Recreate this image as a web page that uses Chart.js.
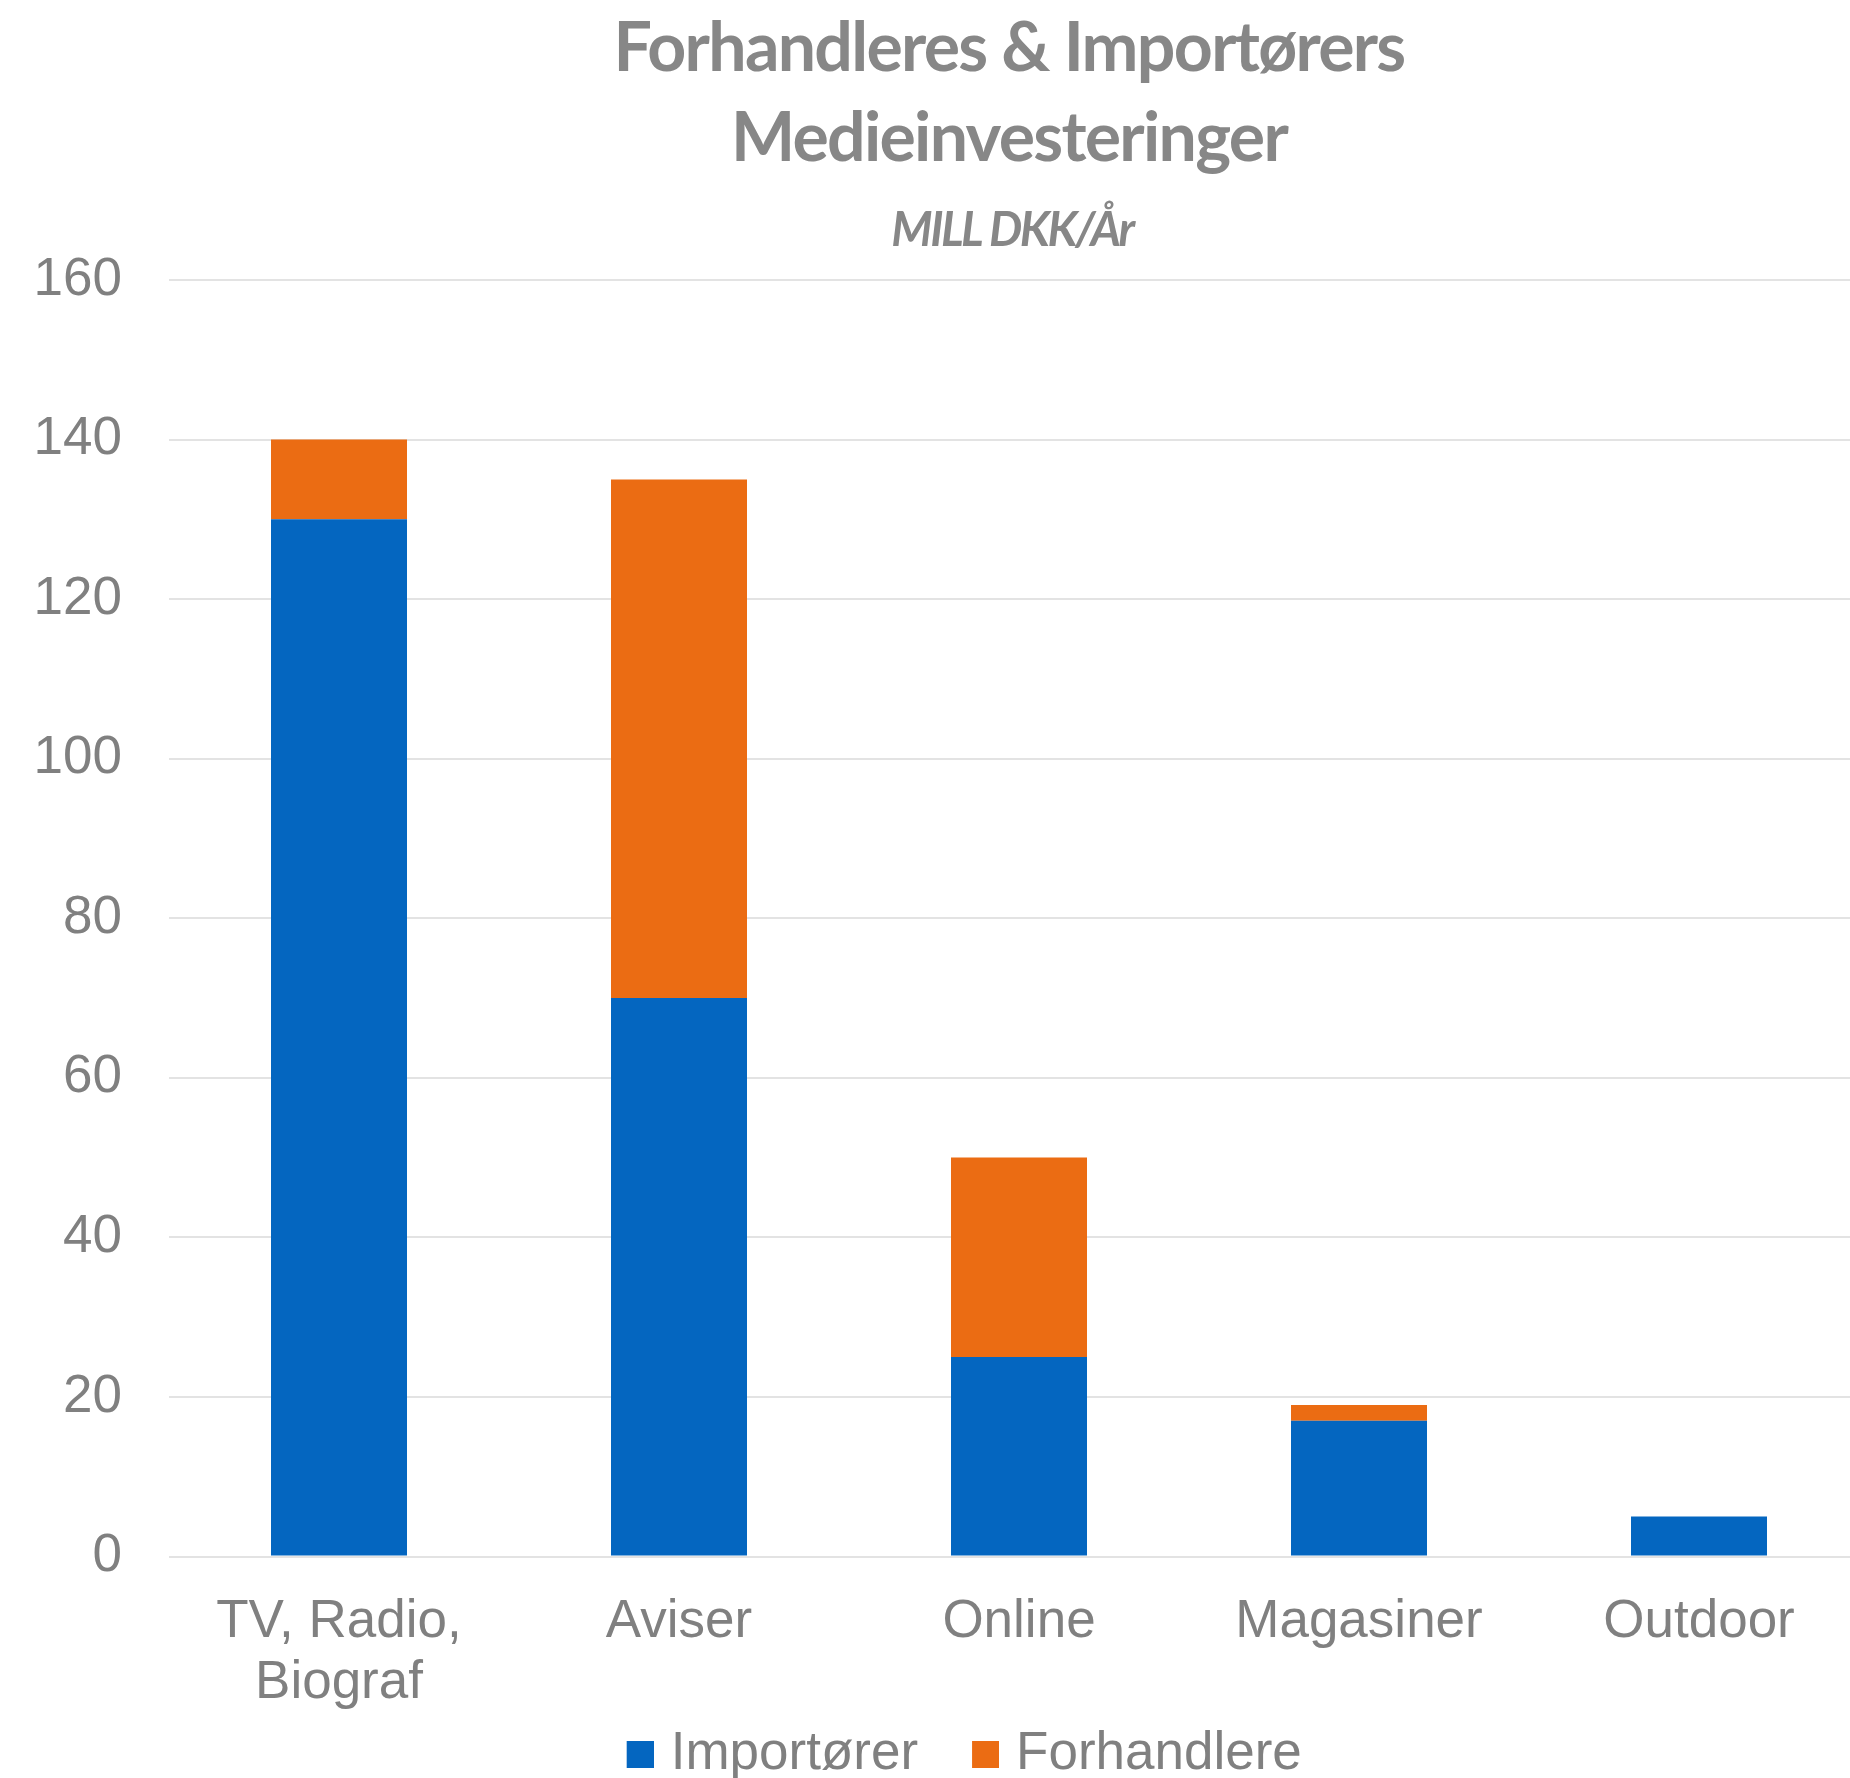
<!DOCTYPE html>
<html>
<head>
<meta charset="utf-8">
<script src="https://cdn.jsdelivr.net/npm/chart.js@4.4.1/dist/chart.umd.min.js"></script>
<style>
  html, body { margin: 0; padding: 0; overflow: hidden; background: #ffffff; }
  canvas { display: block; }
</style>
</head>
<body>
<canvas id="media-chart" width="1869" height="1791"></canvas>
<script>
var categories = [["TV, Radio,", "Biograf"], "Aviser", "Online", "Magasiner", "Outdoor"];
var seriesNames = ["Importører", "Forhandlere"];
var importorer = [130, 70, 25, 17, 5];
var forhandlere = [10, 65, 25, 2, 0];
var yTicks = [0, 20, 40, 60, 80, 100, 120, 140, 160];
var titleLines = ["Forhandleres & Importørers", "Medieinvesteringer"];
var subtitle = "MILL DKK/År";

var colors = ["#0466C0", "#EB6C13"];
var grey = "#808080";
var arial = "'Liberation Sans', Arial, sans-serif";
var tickFont = { family: arial, size: 53, lineHeight: 1.15 };

// legend swatch: square sits at the right end of a wider transparent strip,
// so it ends up close to its label like in the original
var swatch = function (color) {
  var c = document.createElement("canvas");
  c.width = 78;
  c.height = 27;
  var g = c.getContext("2d");
  g.fillStyle = color;
  g.fillRect(c.width - 27, 0, 27, 27);
  return c;
};
var swatches = colors.map(swatch);

// title + subtitle drawn by hand so the letters can be squeezed like the original
var titleBlock = {
  id: "titleBlock",
  afterDraw: function (chart) {
    var ctx = chart.ctx;
    ctx.save();
    ctx.fillStyle = "#878787";
    ctx.textAlign = "center";
    ctx.textBaseline = "alphabetic";
    ctx.letterSpacing = "-1.7px";
    ctx.font = "bold 68px Lato";
    ctx.fillText(titleLines[0], 1009, 71);
    ctx.fillText(titleLines[1], 1009, 161);
    ctx.letterSpacing = "-2.5px";
    ctx.font = "italic bold 47px Lato";
    ctx.fillText(subtitle, 1012, 246);
    ctx.restore();
  }
};

var context = document.getElementById("media-chart").getContext("2d");
var chart = new Chart(context, {
  type: "bar",
  data: {
    labels: categories,
    datasets: [
      {
        label: seriesNames[0],
        data: importorer,
        backgroundColor: colors[0],
        borderWidth: 0,
        barPercentage: 0.4,
        categoryPercentage: 1
      },
      {
        label: seriesNames[1],
        data: forhandlere,
        backgroundColor: colors[1],
        borderWidth: 0,
        barPercentage: 0.4,
        categoryPercentage: 1
      }
    ]
  },
  options: {
    responsive: false,
    animation: false,
    devicePixelRatio: 1,
    layout: { padding: { top: 280, left: 18, right: 0, bottom: 0 } },
    plugins: {
      title: { display: false },
      tooltip: { enabled: false },
      legend: {
        position: "bottom",
        labels: {
          usePointStyle: true,
          pointStyleWidth: 59,
          boxHeight: 27,
          padding: 12.5,
          color: grey,
          font: { family: arial, size: 53 },
          generateLabels: function (chart) {
            var items = Chart.defaults.plugins.legend.labels.generateLabels(chart);
            items.forEach(function (item, i) { item.pointStyle = swatches[i]; });
            return items;
          }
        }
      }
    },
    scales: {
      x: {
        stacked: true,
        grid: { display: false, drawTicks: false },
        border: { display: false },
        ticks: { color: grey, font: tickFont, padding: 35, maxRotation: 0, autoSkip: false },
        afterFit: function (scale) { scale.height = 159; }
      },
      y: {
        stacked: true,
        min: yTicks[0],
        max: yTicks[yTicks.length - 1],
        grid: { color: "#e3e3e3", lineWidth: 2, drawTicks: false },
        border: { display: false },
        ticks: { stepSize: yTicks[1] - yTicks[0], color: grey, font: tickFont, padding: 47 },
        afterFit: function (scale) { scale.width = 151; }
      }
    }
  },
  plugins: [titleBlock]
});
</script>
</body>
</html>
